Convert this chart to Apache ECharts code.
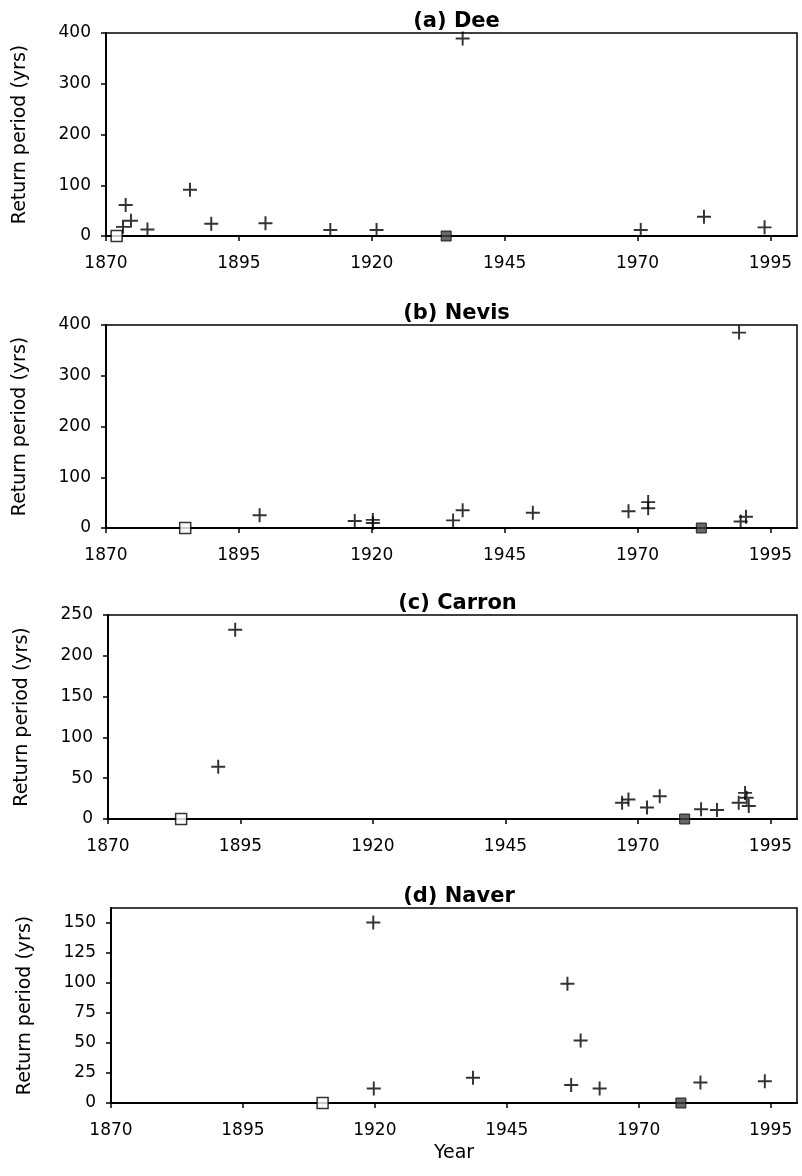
<!DOCTYPE html>
<html>
<head>
<meta charset="utf-8">
<script src="https://cdn.jsdelivr.net/npm/echarts@6/dist/echarts.min.js"></script>
<style>
  html, body { margin: 0; padding: 0; background: #fff; }
  #chart { width: 802px; height: 1176px; }
</style>
</head>
<body>
<div id="chart"></div>
<script>
// Valores (anio, periodo de retorno en anios)
const panelTitles = ['(a) Dee', '(b) Nevis', '(c) Carron', '(d) Naver'];
const xTicks = [1870, 1895, 1920, 1945, 1970, 1995];

const deeYears = [1873.2, 1873.7, 1874.7, 1877.8, 1885.8, 1889.8, 1900, 1912.2, 1920.9, 1937.1, 1970.6, 1982.5, 1993.9];
const deeReturn = [18, 61, 30, 13, 91, 24, 25, 12, 12, 389, 12, 38, 17];
const deeOpen = [1872];
const deeFilled = [1934];

const nevisYears = [1898.9, 1916.8, 1920.2, 1920.2, 1935.3, 1937.1, 1950.3, 1968.3, 1972, 1972, 1989.1, 1989.4, 1990.4];
const nevisReturn = [25, 14, 16, 10, 15, 35, 30, 33, 51, 39, 385, 13, 22];
const nevisOpen = [1884.9];
const nevisFilled = [1982];

const carronYears = [1890.8, 1894.0, 1967.0, 1968.2, 1971.7, 1974.1, 1981.9, 1984.9, 1989.0, 1990.2, 1990.5, 1990.9];
const carronReturn = [64, 232, 20, 24, 14, 28, 12, 11, 20, 32, 26, 16];
const carronOpen = [1883.8];
const carronFilled = [1978.8];

const naverYears = [1919.7, 1919.8, 1938.6, 1956.5, 1957.2, 1959, 1962.6, 1981.7, 1993.9];
const naverReturn = [150, 12, 21, 99, 15, 52, 12, 17, 18];
const naverOpen = [1910.1];
const naverFilled = [1978];

const yMax = [400, 400, 250, 162];
const yStep = [100, 100, 50, 25];

const panels = [
    { years: deeYears, values: deeReturn, open: deeOpen, filled: deeFilled },
    { years: nevisYears, values: nevisReturn, open: nevisOpen, filled: nevisFilled },
    { years: carronYears, values: carronReturn, open: carronOpen, filled: carronFilled },
    { years: naverYears, values: naverReturn, open: naverOpen, filled: naverFilled }
];

// Posicion de cada grafico en pixeles
const layout = [
    { left: 106, top: 33, height: 203 },
    { left: 106, top: 325, height: 203 },
    { left: 108, top: 615, height: 204 },
    { left: 111, top: 908, height: 195 }
];
const rightEdge = 797;
const font = 'DejaVu Sans, Liberation Sans, Arial, sans-serif';

const plusPath = 'path://M43,0H57V43H100V57H57V100H43V57H0V43H43Z';

const chart = echarts.init(document.getElementById('chart'));

const option = {
    backgroundColor: '#fff',
    animation: false,
    title: [],
    grid: [],
    xAxis: [],
    yAxis: [],
    series: []
};

panels.forEach((p, i) => {
    const L = layout[i];
    option.title.push({
        text: panelTitles[i],
        left: (L.left + rightEdge) / 2,
        top: L.top - 27,
        textAlign: 'center',
        textStyle: { fontFamily: font, fontSize: 21, fontWeight: 'bold', color: '#000' }
    });
    option.grid.push({
        left: L.left,
        top: L.top,
        width: rightEdge - L.left,
        height: L.height,
        show: true,
        borderColor: '#000',
        borderWidth: 1.5,
        backgroundColor: 'transparent'
    });
    option.xAxis.push({
        type: 'value',
        gridIndex: i,
        min: 1870,
        max: 2000,
        interval: 25,
        name: i === 3 ? 'Year' : '',
        nameLocation: 'middle',
        nameGap: 41,
        nameTextStyle: { fontFamily: font, fontSize: 19, color: '#000' },
        axisLine: { onZero: false, lineStyle: { color: '#000', width: 2 } },
        axisTick: { show: true, length: 5, lineStyle: { color: '#000', width: 1.5 } },
        axisLabel: {
            showMaxLabel: false,
            fontFamily: font, fontSize: 17, color: '#000', margin: 19,
            formatter: v => (xTicks.indexOf(v) >= 0 ? String(v) : '')
        },
        splitLine: { show: false }
    });
    option.yAxis.push({
        type: 'value',
        gridIndex: i,
        min: 0,
        max: yMax[i],
        interval: yStep[i],
        name: 'Return period (yrs)',
        nameLocation: 'middle',
        nameGap: 76,
        nameTextStyle: { fontFamily: font, fontSize: 19, color: '#000' },
        axisLine: { show: true, lineStyle: { color: '#000', width: 2 } },
        axisTick: { show: true, length: 5, lineStyle: { color: '#000', width: 1.5 } },
        axisLabel: {
            showMaxLabel: i !== 3,
            fontFamily: font, fontSize: 17, color: '#000', margin: 15
        },
        splitLine: { show: false }
    });
    option.series.push({
        type: 'scatter',
        xAxisIndex: i,
        yAxisIndex: i,
        symbol: plusPath,
        symbolSize: 14,
        clip: false,
        itemStyle: { color: '#000' },
        data: p.years.map((y, k) => [y, p.values[k]])
    });
    option.series.push({
        type: 'scatter',
        xAxisIndex: i,
        yAxisIndex: i,
        symbol: 'rect',
        symbolSize: 11,
        clip: false,
        itemStyle: { color: '#fff', borderColor: '#000', borderWidth: 1.5 },
        data: p.open.map(y => [y, 0])
    });
    option.series.push({
        type: 'scatter',
        xAxisIndex: i,
        yAxisIndex: i,
        symbol: 'rect',
        symbolSize: 10,
        clip: false,
        itemStyle: { color: '#444', borderColor: '#000', borderWidth: 1 },
        data: p.filled.map(y => [y, 0])
    });
});

chart.setOption(option);
</script>
</body>
</html>
